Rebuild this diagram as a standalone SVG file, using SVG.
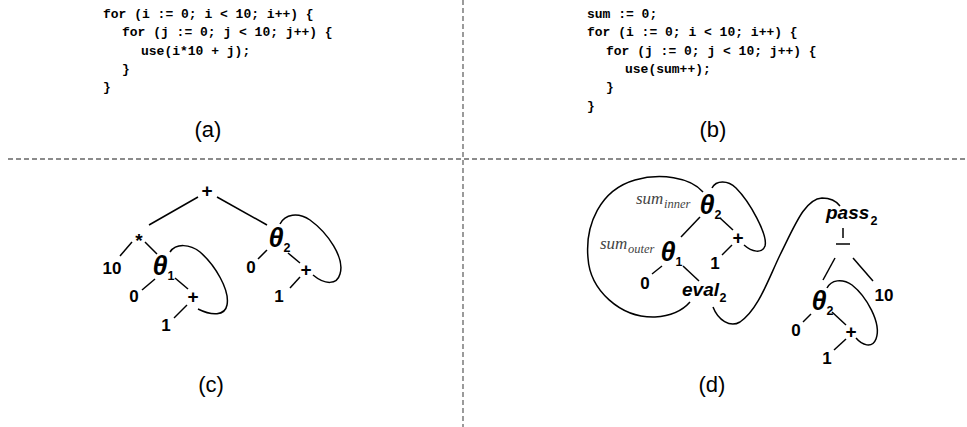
<svg xmlns="http://www.w3.org/2000/svg" width="967" height="427" viewBox="0 0 967 427">
<style>
.code{font-family:"Liberation Mono","Courier New",monospace;font-weight:bold;font-size:13px;fill:#000}
.cap{font-family:"Liberation Sans",Arial,sans-serif;font-size:22px;fill:#000;text-anchor:middle}
.lbl{font-family:"Liberation Sans",Arial,sans-serif;font-weight:bold;font-size:17px;fill:#000;text-anchor:middle}
.opr{font-family:"Liberation Sans",Arial,sans-serif;font-weight:bold;font-size:19px;fill:#000;text-anchor:middle}
.th{font-family:"Liberation Sans",Arial,sans-serif;font-weight:bold;font-style:italic;font-size:27px;fill:#000;text-anchor:middle}
.sub{font-family:"Liberation Sans",Arial,sans-serif;font-weight:bold;font-size:12.5px;fill:#000;text-anchor:middle}
.op{font-family:"Liberation Sans",Arial,sans-serif;font-weight:bold;font-style:italic;font-size:19px;fill:#000}
.sm{font-family:"Liberation Serif","Times New Roman",serif;font-style:italic;font-size:17px;fill:#444}
.smsub{font-family:"Liberation Serif","Times New Roman",serif;font-style:italic;font-size:12.5px;fill:#444}
.edge{fill:none;stroke:#000;stroke-width:1.5}
.div{fill:none;stroke:#666;stroke-width:1.3;stroke-dasharray:5 3}
</style>

<g id="dividers">
<path class="div" d="M8,159 H967"/>
<path class="div" d="M463,0 V427"/>
</g>

<g id="code-a">
<text class="code" x="103" y="17.5">for (i := 0; i &lt; 10; i++) {</text>
<text class="code" x="122" y="36">for (j := 0; j &lt; 10; j++) {</text>
<text class="code" x="141" y="54.5">use(i*10 + j);</text>
<text class="code" x="122" y="73">}</text>
<text class="code" x="103" y="91">}</text>
</g>
<g id="code-b">
<text class="code" x="587" y="17.5">sum := 0;</text>
<text class="code" x="587" y="36">for (i := 0; i &lt; 10; i++) {</text>
<text class="code" x="606" y="54.5">for (j := 0; j &lt; 10; j++) {</text>
<text class="code" x="625" y="73">use(sum++);</text>
<text class="code" x="606" y="91">}</text>
<text class="code" x="587" y="109.5">}</text>
</g>

<g id="captions">
<text class="cap" x="208" y="137">(a)</text>
<text class="cap" x="713" y="137">(b)</text>
<text class="cap" x="211" y="392">(c)</text>
<text class="cap" x="712" y="392">(d)</text>
</g>

<g id="connectors">
<!-- (c) -->
<path class="edge" d="M198,197 L149,225"/>
<path class="edge" d="M217,197 L267,225"/>
<path class="edge" d="M132,242 L120,256"/>
<path class="edge" d="M145,242 L157,254"/>
<path class="edge" d="M155,279 L142,290"/>
<path class="edge" d="M175,278 L188,289"/>
<path class="edge" d="M187,305 L174,318"/>
<path class="edge" d="M267,250 L258,259"/>
<path class="edge" d="M288,253 L300,263"/>
<path class="edge" d="M300,277 L290,288"/>
<path class="edge" d="M170,252 C176,243 190,244 200,252 C215,265 230,290 227,305 C225,316 212,316 198,309"/>
<path class="edge" d="M280,224 C285,214 298,212 310,220 C328,233 345,258 340,274 C337,285 325,285 313,275"/>
<!-- (d) -->
<path class="edge" d="M700,217 L681,237"/>
<path class="edge" d="M720,218 L733,230"/>
<path class="edge" d="M732,245 L722,255"/>
<path class="edge" d="M662,266 L652,274"/>
<path class="edge" d="M683,266 L699,281"/>
<path class="edge" d="M703,192 C690,177 660,173 635,180 C600,190 585,225 588,258 C590,290 620,318 655,317 C672,316 683,310 690,302"/>
<path class="edge" d="M712,188 C716,180 728,180 736,188 C750,202 768,235 765,246 C762,254 752,252 744,245"/>
<path class="edge" d="M713,307 C718,320 730,328 740,322 C758,310 768,280 780,255 C795,225 805,199 822,198 C831,198 837,202 840,206"/>
<path class="edge" d="M843,228 L843,238"/>
<path class="edge" d="M835,258 L823,280"/>
<path class="edge" d="M853,258 L873,281"/>
<path class="edge" d="M811,314 L803,322"/>
<path class="edge" d="M832,312 L846,325"/>
<path class="edge" d="M846,339 L834,350"/>
<path class="edge" d="M827,288 C831,280 842,278 852,285 C866,296 882,323 876,339 C872,349 862,345 856,338"/>
</g>

<!-- (c) nodes -->
<g id="c-plus-top"><text class="opr" x="207" y="197">+</text></g>
<g id="c-star"><text class="opr" x="139" y="247">*</text></g>
<g id="c-ten"><text class="lbl" x="112" y="274">10</text></g>
<g id="c-theta1"><text class="th" x="160" y="275">θ</text><text class="sub" x="171" y="280">1</text></g>
<g id="c-zero1"><text class="lbl" x="134" y="302">0</text></g>
<g id="c-plus1"><text class="opr" x="193" y="303">+</text></g>
<g id="c-one1"><text class="lbl" x="166" y="331">1</text></g>
<g id="c-theta2"><text class="th" x="276" y="247">θ</text><text class="sub" x="287" y="252">2</text></g>
<g id="c-zero2"><text class="lbl" x="251" y="273">0</text></g>
<g id="c-plus2"><text class="opr" x="306" y="276">+</text></g>
<g id="c-one2"><text class="lbl" x="279" y="302">1</text></g>

<!-- (d) nodes -->
<g id="d-theta2"><text class="sm" x="636" y="204">sum</text><text class="smsub" x="664" y="208">inner</text><text class="th" x="707" y="214">θ</text><text class="sub" x="718" y="219">2</text></g>
<g id="d-theta1"><text class="sm" x="600" y="249">sum</text><text class="smsub" x="628" y="253">outer</text><text class="th" x="668" y="261">θ</text><text class="sub" x="679" y="266">1</text></g>
<g id="d-plus"><text class="opr" x="738" y="244">+</text></g>
<g id="d-one"><text class="lbl" x="715" y="269">1</text></g>
<g id="d-zero"><text class="lbl" x="645" y="289">0</text></g>
<g id="d-eval"><text class="op" x="682" y="296">eval</text><text class="sub" x="723" y="302">2</text></g>
<g id="d-pass"><text class="op" x="826" y="219">pass</text><text class="sub" x="874" y="225">2</text></g>
<g id="d-cmp"><path class="edge" d="M836,244 L850,244"/></g>
<g id="d-ten"><text class="lbl" x="884" y="301">10</text></g>
<g id="d-theta2b"><text class="th" x="819" y="310">θ</text><text class="sub" x="830" y="315">2</text></g>
<g id="d-zero2"><text class="lbl" x="796" y="336">0</text></g>
<g id="d-plus2"><text class="opr" x="851" y="338">+</text></g>
<g id="d-one2"><text class="lbl" x="827" y="364">1</text></g>
</svg>
